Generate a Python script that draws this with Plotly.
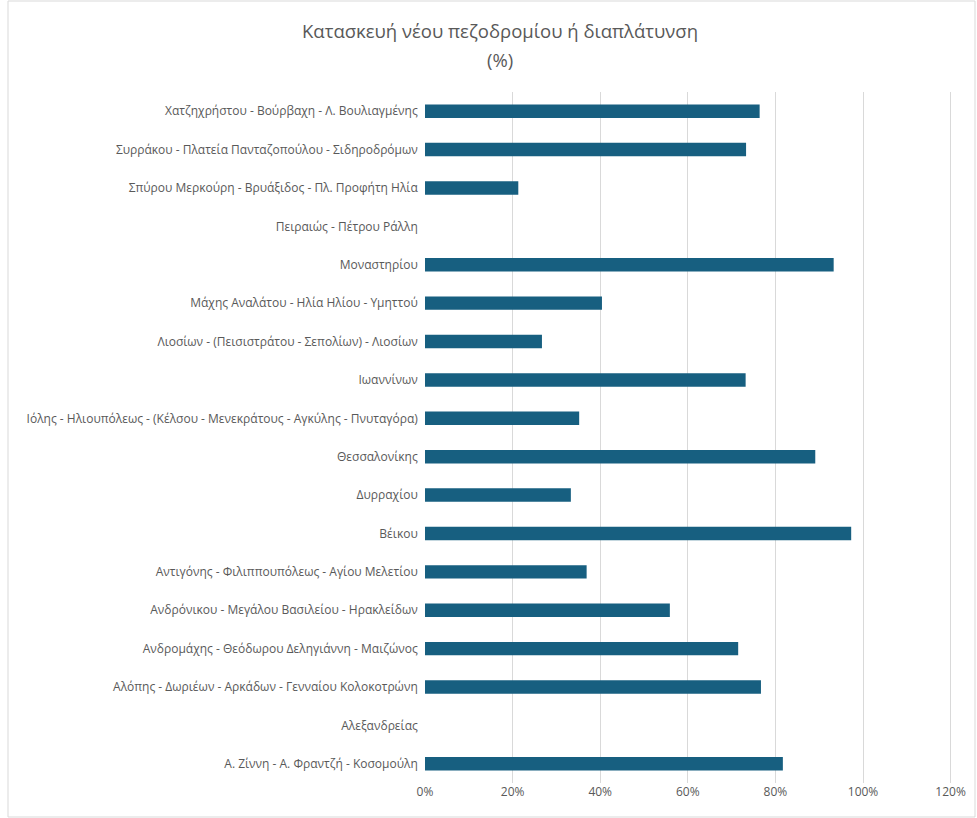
import plotly.graph_objects as go

# streets, top to bottom as shown
streets = [
    'Χατζηχρήστου - Βούρβαχη - Λ. Βουλιαγμένης',
    'Συρράκου - Πλατεία Πανταζοπούλου - Σιδηροδρόμων',
    'Σπύρου Μερκούρη - Βρυάξιδος - Πλ. Προφήτη Ηλία',
    'Πειραιώς - Πέτρου Ράλλη',
    'Μοναστηρίου',
    'Μάχης Αναλάτου - Ηλία Ηλίου - Υμηττού',
    'Λιοσίων - (Πεισιστράτου - Σεπολίων) - Λιοσίων',
    'Ιωαννίνων',
    'Ιόλης - Ηλιουπόλεως - (Κέλσου - Μενεκράτους - Αγκύλης - Πνυταγόρα)',
    'Θεσσαλονίκης',
    'Δυρραχίου',
    'Βέικου',
    'Αντιγόνης - Φιλιππουπόλεως - Αγίου Μελετίου',
    'Ανδρόνικου - Μεγάλου Βασιλείου - Ηρακλείδων',
    'Ανδρομάχης - Θεόδωρου Δεληγιάννη - Μαιζώνος',
    'Αλόπης - Δωριέων - Αρκάδων - Γενναίου Κολοκοτρώνη',
    'Αλεξανδρείας',
    'Α. Ζίννη - Α. Φραντζή - Κοσομούλη',
]

shares = [
    0.764, 0.733, 0.213, 0.0, 0.933, 0.404, 0.267, 0.732, 0.352,
    0.891, 0.333, 0.973, 0.369, 0.559, 0.715, 0.767, 0.0, 0.817,
]

tick_vals = [0, 0.2, 0.4, 0.6, 0.8, 1.0, 1.2]
title_lines = ['Κατασκευή νέου πεζοδρομίου ή διαπλάτυνση', '(%)']

fig = go.Figure()
fig.add_trace(go.Bar(
    x=shares,
    y=streets,
    orientation='h',
    width=0.35,
    marker=dict(color='#175f80', line=dict(width=0)),
    hovertemplate='%{y}: %{x:.0%}<extra></extra>',
))

# plot area is 530 x 691 px; title lines placed at fixed pixel heights above it
plot_w, plot_h = 530, 691
for line, py in zip(title_lines, [31, 60]):
    fig.add_annotation(
        text=line, xref='paper', yref='paper',
        x=(500 - 425) / plot_w, y=1 + (92 - py) / plot_h,
        xanchor='center', yanchor='middle', showarrow=False,
        font=dict(size=18.5, color='#595959'),
    )

fig.update_layout(
    width=977,
    height=818,
    paper_bgcolor='white',
    plot_bgcolor='white',
    showlegend=False,
    font=dict(family='Open Sans, Lato, sans-serif', color='#595959', size=12),
    margin=dict(l=425, r=22, t=92, b=35),
    shapes=[dict(
        type='rect', xref='paper', yref='paper',
        x0=-417 / plot_w, x1=1 + 20 / plot_w, y0=-34 / plot_h, y1=1 + 91 / plot_h,
        line=dict(color='#d9d9d9', width=1),
    )],
)

fig.update_xaxes(
    range=[0, 1.21],
    tickvals=tick_vals,
    tickformat='.0%',
    showgrid=True,
    gridcolor='#d9d9d9',
    gridwidth=1,
    zeroline=False,
    showline=False,
    automargin=False,
    tickfont=dict(size=12, color='#595959'),
)

fig.update_yaxes(
    autorange='reversed',
    showgrid=False,
    showline=False,
    ticks='',
    ticksuffix='  ',
    automargin=False,
    tickfont=dict(size=12, color='#595959'),
)

# page body has a default 8px margin; drop it so the figure fills the window
fig.write_html(
    'out.html',
    config={'displayModeBar': False},
    post_script="document.body.style.margin='0';document.body.style.overflow='hidden';",
)
